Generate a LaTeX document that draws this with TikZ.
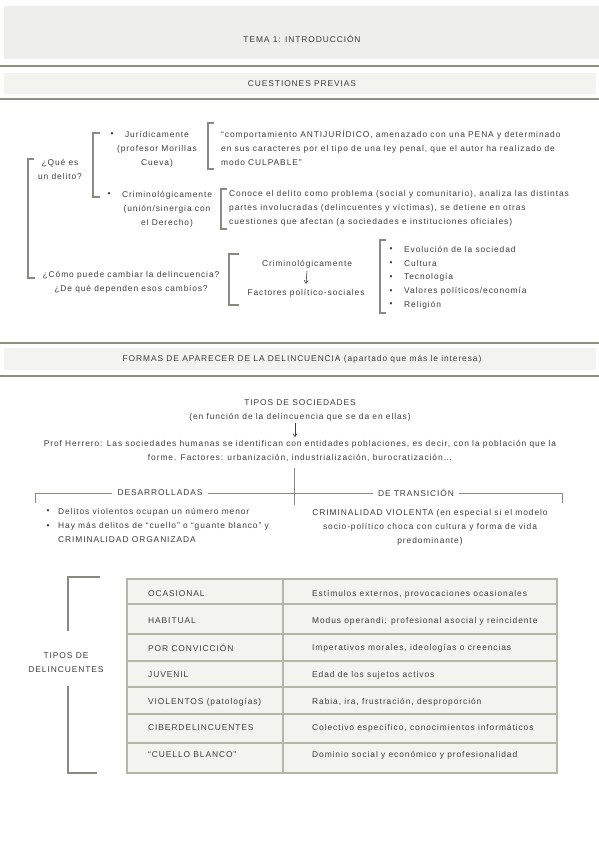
\documentclass[tikz,border=0pt]{standalone}
\usepackage{fontspec}
\setmainfont{Liberation Sans}[LetterSpace=11]
\usetikzlibrary{arrows.meta}
\definecolor{tc}{HTML}{3C3C3C}
\definecolor{bc}{HTML}{8A8A82}
\definecolor{rc}{HTML}{8E8F7C}
\definecolor{hdr}{HTML}{EEEEEC}
\definecolor{sub}{HTML}{F3F3EF}
\definecolor{tb}{HTML}{B5B6A6}
\begin{document}
\begin{tikzpicture}[x=1pt,y=-1pt,
  every node/.style={inner sep=0pt, text=tc, font=\fontsize{8.4}{14}\selectfont},
  brk/.style={draw=bc, line width=1.1pt},
  rul/.style={draw=rc, line width=2.4pt},
  lin/.style={draw=bc, line width=0.9pt},
  arr/.style={draw=tc, line width=0.6pt, -{Straight Barb[length=3pt,width=4pt]}},
  lft/.style={anchor=west, align=left},
  ctr/.style={align=center},
  cell/.style={anchor=west}]
\useasboundingbox[fill=white] (0,0) rectangle (599,848);
% header
\fill[hdr] (4,6) rectangle (599,59);
\node (tema) at (302,39) {TEMA 1: INTRODUCCIÓN};
\draw[rul] (0,66) -- (599,66);
\fill[sub] (4,73) rectangle (596,94);
\node (cp) at (302,84) {CUESTIONES PREVIAS};
\draw[rul] (0,99) -- (599,99);
% section 1
\draw[brk] (34,159) -- (28,159) -- (28,278) -- (35,278);
\node[ctr] (que) at (60,169.5) {¿Qué es\\un delito?};
\draw[brk] (100,133) -- (93,133) -- (93,197) -- (100,197);
\node (b1) at (112,135) {•};
\node[ctr] (jur) at (157,149) {Jurídicamente\\(profesor Morillas\\Cueva)};
\node (b2) at (109,195) {•};
\node[ctr] (crim) at (167,209) {Criminológicamente\\(unión/sinergia con\\el Derecho)};
\draw[brk] (214,123) -- (208,123) -- (208,169) -- (214,169);
\node[lft] (quote) at (221,148) {“comportamiento ANTIJURÍDICO, amenazado con una PENA y determinado\\en sus caracteres por el tipo de una ley penal, que el autor ha realizado de\\modo CULPABLE”};
\draw[brk] (227,189) -- (221,189) -- (221,229) -- (227,229);
\node[lft] (conoce) at (229,208) {Conoce el delito como problema (social y comunitario), analiza las distintas\\partes involucradas (delincuentes y víctimas), se detiene en otras\\cuestiones que afectan (a sociedades e instituciones oficiales)};
\node[ctr] (como) at (131,282) {¿Cómo puede cambiar la delincuencia?\\¿De qué dependen esos cambios?};
\draw[brk] (239,254) -- (229,254) -- (229,305) -- (239,305);
\node (crim2) at (307,264) {Criminológicamente};
\node (fact) at (306,293) {Factores político-sociales};
\draw[arr] ([yshift=-3pt]crim2.south) -- ([yshift=5pt]fact.north);
\draw[brk] (386,240) -- (380,240) -- (380,313) -- (386,313);
\foreach \t [count=\i] in {Evolución de la sociedad, Cultura, Tecnología, Valores políticos/economía, Religión}{
  \node (lb\i) at (391,235.5+13.9*\i) {•};
  \node[cell] (li\i) at (404,235.5+13.9*\i) {\t};
}
% section 2
\draw[rul] (0,343) -- (599,343);
\fill[sub] (4,348) rectangle (596,370);
\node (formas) at (302,359) {FORMAS DE APARECER DE LA DELINCUENCIA (apartado que más le interesa)};
\draw[rul] (0,376) -- (599,376);
\node[ctr] (tipos) at (300,410) {TIPOS DE SOCIEDADES\\(en función de la delincuencia que se da en ellas)};
\node[ctr] (prof) at (300,451) {Prof Herrero: Las sociedades humanas se identifican con entidades poblaciones, es decir, con la población que la\\forme. Factores: urbanización, industrialización, burocratización…};
\draw[arr] ([yshift=-2pt]tipos.south -| 295,0) -- ([yshift=3pt]prof.north -| 295,0);
\coordinate (vb) at (294,505);
\draw[lin] ([yshift=-6pt]prof.south -| vb) -- (vb);
\node[inner xsep=5pt] (des) at (160,493) {DESARROLLADAS};
\node[inner xsep=5pt] (tra) at (416,493) {DE TRANSICIÓN};
\coordinate (lt) at (35,503);
\coordinate (rt) at (562,503);
\draw[lin] (lt) |- (des.west);
\draw[lin] (des.east) -- (tra.west);
\draw[lin] (tra.east) -| (rt);
\node (d1b) at (48,512) {•};
\node[cell] (d1) at (58,512) {Delitos violentos ocupan un número menor};
\node (d2b) at (48,527) {•};
\node[lft, anchor=north west] (d2) at (58,522) {Hay más delitos de “cuello” o “guante blanco” y\\CRIMINALIDAD ORGANIZADA};
\node[ctr] (viol) at (430,527) {CRIMINALIDAD VIOLENTA (en especial si el modelo\\socio-político choca con cultura y forma de vida\\predominante)};
% tipos de delincuentes
\node[ctr] (tdl) at (66,663) {TIPOS DE\\DELINCUENTES};
\draw[brk] (tdl.north -| 68,0) ++(0,-22) -- (68,577) -- (100,577);
\draw[brk] (tdl.south -| 68,0) ++(0,13) -- (68,773) -- (97,773);
\fill[sub] (127,579) rectangle (557,773);
\draw[tb, line width=1.3pt] (127,579) rectangle (557,773);
\foreach \yy in {604,634,661,687,714,743}{\draw[tb, line width=1.3pt] (127,\yy) -- (557,\yy);}
\draw[tb, line width=1.3pt] (283,579) -- (283,773);
\foreach \a/\b/\yy [count=\i] in {OCASIONAL/{Estímulos externos, provocaciones ocasionales}/594,
  HABITUAL/{Modus operandi: profesional asocial y reincidente}/621,
  POR CONVICCIÓN/{Imperativos morales, ideologías o creencias}/648,
  JUVENIL/{Edad de los sujetos activos}/675,
  VIOLENTOS (patologías)/{Rabia, ira, frustración, desproporción}/702,
  CIBERDELINCUENTES/{Colectivo específico, conocimientos informáticos}/728,
  “CUELLO BLANCO”/{Dominio social y económico y profesionalidad}/755}{
  \node[cell] (ta\i) at (148,\yy) {\a};
  \node[cell] (tb\i) at (312,\yy) {\b};
}
\end{tikzpicture}
\end{document}
